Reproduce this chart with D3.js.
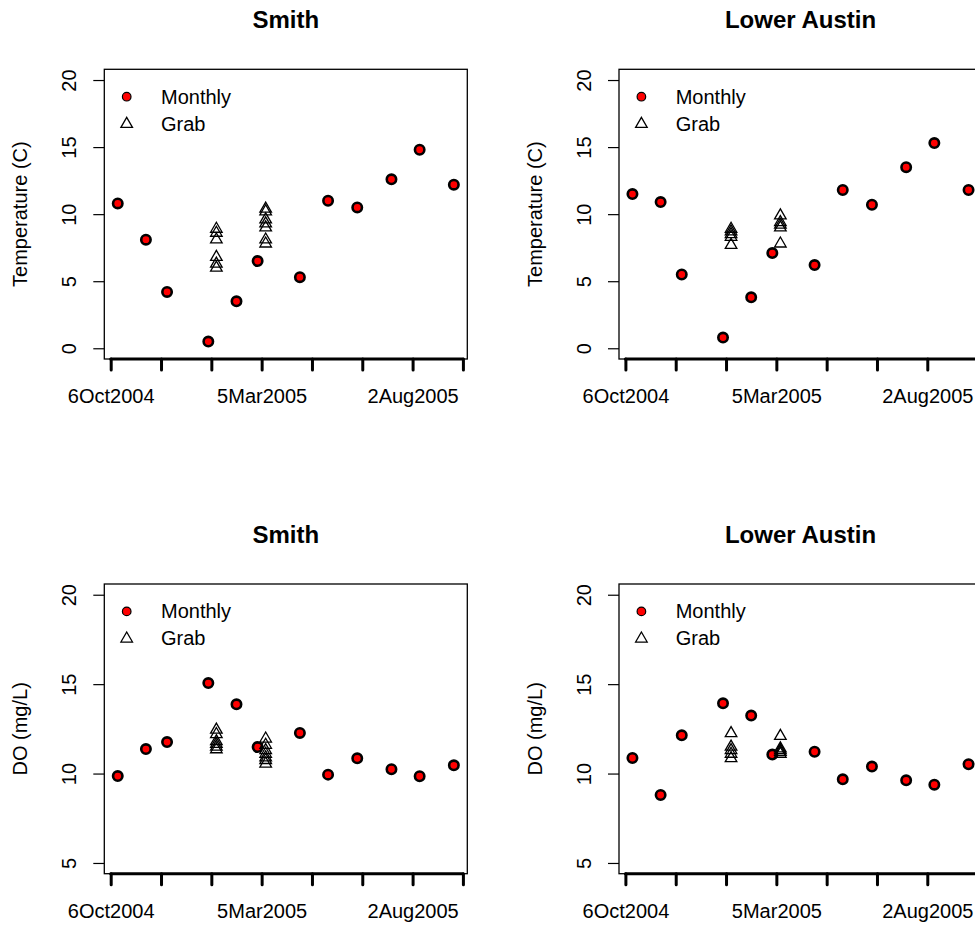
<!DOCTYPE html>
<html>
<head>
<meta charset="utf-8">
<script src="https://cdn.jsdelivr.net/npm/d3@7"></script>
<style>
body { margin: 0; background: #fff; }
svg { display: block; font-family: "Liberation Sans", Arial, sans-serif; }
</style>
</head>
<body>
<svg id="chart" width="975" height="925"></svg>
<script>
// monthly sampling dates (same at both sites)
const monthlyDates = ["2004-10-13", "2004-11-10", "2004-12-01", "2005-01-11", "2005-02-08", "2005-03-01",
	"2005-04-12", "2005-05-10", "2005-06-08", "2005-07-12", "2005-08-09", "2005-09-12"];

// grab sample dates
const smithGrabDates = ["2005-01-19", "2005-01-19", "2005-01-19", "2005-01-19", "2005-01-19", "2005-01-19",
	"2005-03-09", "2005-03-09", "2005-03-09", "2005-03-09", "2005-03-09", "2005-03-09", "2005-03-09"];
const austinGrabDates = ["2005-01-19", "2005-01-19", "2005-01-19", "2005-01-19", "2005-01-19",
	"2005-03-09", "2005-03-09", "2005-03-09", "2005-03-09", "2005-03-09"];

// temperature (C)
const smithTempMonthly = [10.8, 8.1, 4.2, 0.5, 3.5, 6.5, 5.3, 11.0, 10.5, 12.6, 14.8, 12.2];
const austinTempMonthly = [11.5, 10.9, 5.5, 0.8, 3.8, 7.1, 6.2, 11.8, 10.7, 13.5, 15.3, 11.8];
const smithTempGrab = [8.9, 8.6, 8.1, 6.8, 6.3, 6.0, 10.4, 10.2, 9.6, 9.3, 9.0, 8.1, 7.8];
const austinTempGrab = [8.9, 8.7, 8.5, 8.3, 7.7, 9.9, 9.4, 9.2, 9.0, 7.8];

// dissolved oxygen (mg/L)
const smithDOMonthly = [9.86, 11.37, 11.76, 15.06, 13.87, 11.48, 12.27, 9.94, 10.85, 10.24, 9.85, 10.46];
const austinDOMonthly = [10.87, 8.80, 12.14, 13.93, 13.24, 11.06, 11.22, 9.68, 10.39, 9.62, 9.38, 10.52];
const smithDOGrab = [12.45, 12.2, 11.8, 11.65, 11.5, 11.35, 11.95, 11.6, 11.3, 11.1, 10.9, 10.75, 10.55];
const austinDOGrab = [12.25, 11.5, 11.3, 11.1, 10.85, 12.1, 11.4, 11.3, 11.2, 11.1];

// axes
const xTickDates = ["2004-10-06", "2004-11-25", "2005-01-14", "2005-03-05", "2005-04-24", "2005-06-13", "2005-08-02", "2005-09-21"];
const xTickLabels = ["6Oct2004", "", "", "5Mar2005", "", "", "2Aug2005", ""];
const tempLim = [0, 20];
const doLim = [5, 20];
const tempTicks = [0, 5, 10, 15, 20];
const doTicks = [5, 10, 15, 20];

const parse = d3.timeParse("%Y-%m-%d");
const W = 363, H = 289.7;     // plot box
const step = 514.7;           // panel spacing (figure is cropped on the right/bottom)

whenDocumentLoaded(() => {
	const panels = [
		{title: "Smith", ylab: "Temperature (C)", lim: tempLim, ticks: tempTicks, monthly: smithTempMonthly, grabDates: smithGrabDates, grab: smithTempGrab, col: 0, row: 0},
		{title: "Lower Austin", ylab: "Temperature (C)", lim: tempLim, ticks: tempTicks, monthly: austinTempMonthly, grabDates: austinGrabDates, grab: austinTempGrab, col: 1, row: 0},
		{title: "Smith", ylab: "DO (mg/L)", lim: doLim, ticks: doTicks, monthly: smithDOMonthly, grabDates: smithGrabDates, grab: smithDOGrab, col: 0, row: 1},
		{title: "Lower Austin", ylab: "DO (mg/L)", lim: doLim, ticks: doTicks, monthly: austinDOMonthly, grabDates: austinGrabDates, grab: austinDOGrab, col: 1, row: 1}
	];
	const svg = d3.select("#chart");
	panels.forEach(p => drawPanel(svg, p));
});

function drawPanel(svg, p) {
	const g = svg.append("g")
		.attr("transform", `translate(${104.3 + p.col * step},${69.3 + p.row * step})`);

	const dates = monthlyDates.map(parse);
	const d0 = d3.min(dates), d1 = d3.max(dates);
	const span = d1 - d0;
	// R style 4% padding
	const x = d3.scaleTime()
		.domain([new Date(+d0 - 0.04 * span), new Date(+d1 + 0.04 * span)])
		.range([0, W]);
	const pad = 0.04 * (p.lim[1] - p.lim[0]);
	const y = d3.scaleLinear()
		.domain([p.lim[0] - pad, p.lim[1] + pad])
		.range([H, 0]);

	// y axis
	const gy = g.append("g")
		.call(d3.axisLeft(y).tickValues(p.ticks).tickSize(11));
	gy.attr("font-size", null).attr("font-family", null);
	gy.select(".domain").remove();
	gy.selectAll(".tick line").attr("stroke", "#000").attr("stroke-width", 1.2);
	gy.selectAll(".tick text")
		.attr("x", 0).attr("dy", 0)
		.attr("transform", "translate(-28,0) rotate(-90)")
		.attr("text-anchor", "middle")
		.attr("fill", "#000")
		.style("font-size", "20px");

	// x axis, thick
	const xTicks = xTickDates.map(parse);
	const gx = g.append("g")
		.attr("transform", `translate(0,${H})`)
		.call(d3.axisBottom(x).tickValues(xTicks).tickSize(11).tickFormat((d, i) => xTickLabels[i]));
	gx.attr("font-size", null).attr("font-family", null);
	gx.select(".domain").remove();
	gx.selectAll(".tick line").attr("stroke", "#000").attr("stroke-width", 3).attr("stroke-linecap", "round");
	gx.selectAll(".tick text")
		.attr("y", 44.3).attr("dy", 0)
		.attr("fill", "#000")
		.style("font-size", "20px");
	gx.append("line")
		.attr("x1", x(xTicks[0]))
		.attr("x2", x(xTicks[xTicks.length - 1]))
		.attr("stroke", "#000")
		.attr("stroke-width", 3)
		.attr("stroke-linecap", "round");

	// box
	g.append("rect")
		.attr("width", W)
		.attr("height", H)
		.attr("fill", "none")
		.attr("stroke", "#000")
		.attr("stroke-width", 1.3);

	// title and y label
	g.append("text")
		.attr("x", W / 2)
		.attr("y", -41)
		.attr("text-anchor", "middle")
		.style("font-size", "24px")
		.style("font-weight", "bold")
		.text(p.title);
	g.append("text")
		.attr("transform", `translate(-77,${H / 2}) rotate(-90)`)
		.attr("text-anchor", "middle")
		.style("font-size", "20px")
		.text(p.ylab);

	const tri = d3.symbol().type(d3.symbolTriangle).size(58);

	// monthly points
	g.selectAll(".monthly")
		.data(p.monthly)
		.enter().append("circle")
		.attr("class", "monthly")
		.attr("cx", (d, i) => x(dates[i]))
		.attr("cy", d => y(d))
		.attr("r", 4.7)
		.attr("fill", "red")
		.attr("stroke", "#000")
		.attr("stroke-width", 2.6);

	// grab samples
	g.selectAll(".grab")
		.data(p.grab)
		.enter().append("path")
		.attr("class", "grab")
		.attr("d", tri)
		.attr("transform", (d, i) => `translate(${x(parse(p.grabDates[i]))},${y(d)})`)
		.attr("fill", "none")
		.attr("stroke", "#000")
		.attr("stroke-width", 1.3);

	// legend
	g.append("circle")
		.attr("cx", 22.4).attr("cy", 27.4).attr("r", 4.3)
		.attr("fill", "red").attr("stroke", "#000").attr("stroke-width", 1.2);
	g.append("path")
		.attr("d", tri)
		.attr("transform", "translate(22.4,54.7)")
		.attr("fill", "none").attr("stroke", "#000").attr("stroke-width", 1.3);
	g.append("text").attr("x", 56.7).attr("y", 34.4).style("font-size", "20px").text("Monthly");
	g.append("text").attr("x", 56.7).attr("y", 61.4).style("font-size", "20px").text("Grab");
}

function whenDocumentLoaded(action) {
	if (document.readyState === "loading") {
		document.addEventListener("DOMContentLoaded", action);
	} else {
		action();
	}
}
</script>
</body>
</html>
